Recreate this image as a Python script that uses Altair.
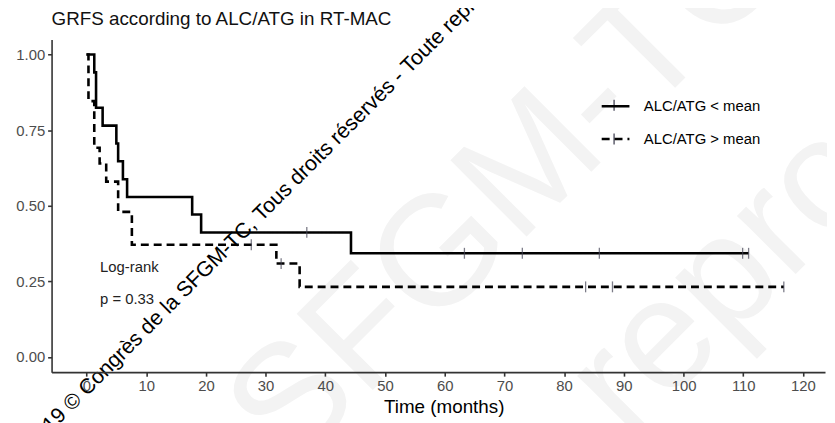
import altair as alt
import pandas as pd

# ---- data ----
groups = ["ALC/ATG < mean", "ALC/ATG > mean"]

lt_time = [0, 1.3, 1.6, 2.7, 5.0, 5.3, 6.1, 6.8, 17.7, 19.2, 44.3, 110.9]
lt_surv = [1.0, 0.941, 0.824, 0.765, 0.706, 0.647, 0.588, 0.529, 0.471, 0.412, 0.343, 0.343]
lt_cens_time = [36.9, 63.3, 73.0, 85.9, 109.9, 110.9]
lt_cens_surv = [0.412, 0.343, 0.343, 0.343, 0.343, 0.343]

gt_time = [0, 0.33, 1.3, 2.2, 3.3, 5.3, 7.6, 31.8, 35.7, 116.8]
gt_surv = [1.0, 0.846, 0.692, 0.64, 0.58, 0.48, 0.371, 0.309, 0.232, 0.232]
gt_cens_time = [27.6, 32.6, 83.6, 88.1, 116.8]
gt_cens_surv = [0.371, 0.309, 0.232, 0.232, 0.232]

x_ticks = [0, 10, 20, 30, 40, 50, 60, 70, 80, 90, 100, 110, 120]
y_ticks = [0.0, 0.25, 0.50, 0.75, 1.0]

annot_text = ["Log-rank", "p = 0.33"]
annot_x = [2.27, 2.27]
annot_y = [0.296, 0.191]

title_text = "GRFS according to ALC/ATG in RT-MAC"
x_title = "Time (months)"
watermark = "2019 © Congrès de la SFGM-TC, Tous droits réservés - Toute reproduction interdite"
big_mark_1 = "SFGM-TC"
big_mark_2 = "reproduction"

FONT = "Liberation Sans"

curves = pd.DataFrame(
    {"t": lt_time + gt_time,
     "s": lt_surv + gt_surv,
     "g": [groups[0]] * len(lt_time) + [groups[1]] * len(gt_time)}
)
cens = pd.DataFrame(
    {"t": lt_cens_time + gt_cens_time,
     "s": lt_cens_surv + gt_cens_surv,
     "g": [groups[0]] * len(lt_cens_time) + [groups[1]] * len(gt_cens_time)}
)
annot = pd.DataFrame({"t": annot_x, "s": annot_y, "label": annot_text})
one = pd.DataFrame({"a": [0]})

xscale = alt.Scale(domain=[-5.85, 123.7], nice=False, zero=False)
yscale = alt.Scale(domain=[-0.05, 1.05], nice=False, zero=False)

xaxis = alt.Axis(values=x_ticks, title=x_title, grid=False, tickSize=4,
                 labelFontSize=15, labelColor="#4d4d4d", labelFont=FONT,
                 titleFontSize=19, titleFont=FONT, titleFontWeight="normal",
                 titleColor="#000000", titlePadding=4, labelPadding=3,
                 titleX=396, domainColor="#333333", tickColor="#333333",
                 domainWidth=1.6, tickWidth=1.6, zindex=1)
yaxis = alt.Axis(values=y_ticks, format=".2f", title=None, grid=False, tickSize=4,
                 labelFontSize=15, labelColor="#4d4d4d", labelFont=FONT,
                 labelPadding=3, domainColor="#333333", tickColor="#333333",
                 domainWidth=1.6, tickWidth=1.6, zindex=1)

bg1 = alt.Chart(one).mark_text(
    text=big_mark_1, font=FONT, fontSize=158, angle=315, align="center",
    baseline="middle", color="#f3f3f3"
).encode(x=alt.value(462), y=alt.value(150))

bg2 = alt.Chart(one).mark_text(
    text=big_mark_2, font=FONT, fontSize=158, angle=315, align="left",
    baseline="middle", color="#f3f3f3"
).encode(x=alt.value(549), y=alt.value(373))

lines = alt.Chart(curves).mark_line(
    interpolate="step-after", color="black", strokeWidth=2.6
).encode(
    x=alt.X("t:Q", scale=xscale, axis=xaxis),
    y=alt.Y("s:Q", scale=yscale, axis=yaxis),
    strokeDash=alt.StrokeDash(
        "g:N",
        scale=alt.Scale(domain=groups, range=[[1, 0], [8, 5]]),
        legend=alt.Legend(
            title=None, orient="none", legendX=554, legendY=52,
            symbolType="stroke", symbolSize=784, symbolStrokeWidth=2.6,
            symbolStrokeColor="black", labelFontSize=15, labelFont=FONT,
            labelColor="#000000", labelOffset=13, rowPadding=9, padding=0,
        ),
    ),
    detail="g:N",
)

# small censor ticks drawn on the legend keys, as in the reference
legend_marks = alt.Chart(one).mark_rule(color="#444455", strokeWidth=1.3).encode(
    x=alt.value(568), y=alt.value(61), y2=alt.value(72)
)
legend_marks2 = alt.Chart(one).mark_rule(color="#444455", strokeWidth=1.3).encode(
    x=alt.value(568), y=alt.value(95), y2=alt.value(106)
)

ticks = alt.Chart(cens).mark_tick(
    orient="vertical", size=11, thickness=1.3, color="#444455"
).encode(
    x=alt.X("t:Q", scale=xscale),
    y=alt.Y("s:Q", scale=yscale),
)

texts = alt.Chart(annot).mark_text(
    font=FONT, fontSize=15, align="left", baseline="middle", color="#222222"
).encode(
    x=alt.X("t:Q", scale=xscale),
    y=alt.Y("s:Q", scale=yscale),
    text="label:N",
)

title = alt.Chart(one).mark_text(
    text=title_text, font=FONT, fontSize=19, align="left",
    baseline="middle", color="#111111"
).encode(x=alt.value(0), y=alt.value(-20.5))

wm = alt.Chart(one).mark_text(
    text=watermark, font=FONT, fontSize=21.5, angle=315, align="left",
    baseline="middle", color="#000000"
).encode(x=alt.value(-22), y=alt.value(410))

chart = alt.layer(bg1, bg2, lines, ticks, legend_marks, legend_marks2,
                  texts, title, wm).properties(
    width=781,
    height=336,
    autosize=alt.AutoSizeParams(type="none"),
    padding={"left": 44, "top": 29.7, "right": 2, "bottom": 49.3},
).configure_view(stroke=None)

chart.save("out.html", embed_options={"renderer": "svg", "actions": False})
